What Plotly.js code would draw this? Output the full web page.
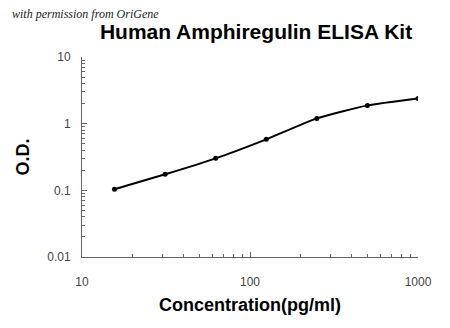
<!DOCTYPE html>
<html><head><meta charset="utf-8">
<script src="https://cdn.plot.ly/plotly-3.0.1.min.js"></script>
<style>html,body{margin:0;padding:0;background:#fff}#c{width:450px;height:328px}</style>
</head><body><div id="c"></div>
<script>
const concentration = [15.6, 31.25, 62.5, 125, 250, 500, 1000];
const od = [0.104, 0.174, 0.302, 0.582, 1.20, 1.88, 2.39];
const xTickVals = [10, 100, 1000];
const xTickText = ['10', '100', '1000'];
const yTickVals = [0.01, 0.1, 1, 10];
const yTickText = ['0.01', '0.1', '1', '10'];

const traces = [{
  x: concentration, y: od, type: 'scatter', mode: 'lines',
  line: {color: '#000', width: 2, shape: 'spline', smoothing: 0.5},
  hoverinfo: 'skip'
}, {
  x: concentration, y: od, type: 'scatter', mode: 'markers',
  marker: {color: '#000', size: 5}
}];

const axisCommon = {
  type: 'log', showgrid: false, zeroline: false, showline: true,
  linecolor: '#666', linewidth: 1, ticks: 'inside', ticklen: 5, tickcolor: '#666',
  tickfont: {family: 'Liberation Sans, Arial', size: 12, color: '#444'},
  tickmode: 'array',
  minor: {ticks: 'inside', ticklen: 3, tickcolor: '#666', dtick: 'D1', showgrid: false}
};

const layout = {
  width: 450, height: 328,
  margin: {l: 82, r: 32, t: 57, b: 71},
  paper_bgcolor: '#fff', plot_bgcolor: '#fff', showlegend: false,
  title: {text: '<b>Human Amphiregulin ELISA Kit</b>', x: 0.569, xanchor: 'center', y: 0.905, yanchor: 'middle',
    font: {family: 'Liberation Sans, Arial', size: 21, color: '#000'}},
  xaxis: Object.assign({}, axisCommon, {
    range: [1, 3], tickvals: xTickVals, ticktext: xTickText, ticklabelstandoff: 14,
    title: {text: '<b>Concentration(pg/ml)</b>', standoff: 9,
      font: {family: 'Liberation Sans, Arial', size: 18, color: '#000'}}
  }),
  yaxis: Object.assign({}, axisCommon, {
    range: [-2, 1], tickvals: yTickVals, ticktext: yTickText, ticklabelstandoff: 8,
    title: {text: '<b>O.D.</b>', standoff: 12,
      font: {family: 'Liberation Sans, Arial', size: 18, color: '#000'}}
  }),
  annotations: [{
    text: '<i>with permission from OriGene</i>', xref: 'paper', yref: 'paper',
    x: -0.215, y: 1.215, xanchor: 'left', yanchor: 'middle', showarrow: false,
    font: {family: 'Liberation Serif, serif', size: 12, color: '#222'}
  }]
};
Plotly.newPlot('c', traces, layout, {staticPlot: true});
</script></body></html>
